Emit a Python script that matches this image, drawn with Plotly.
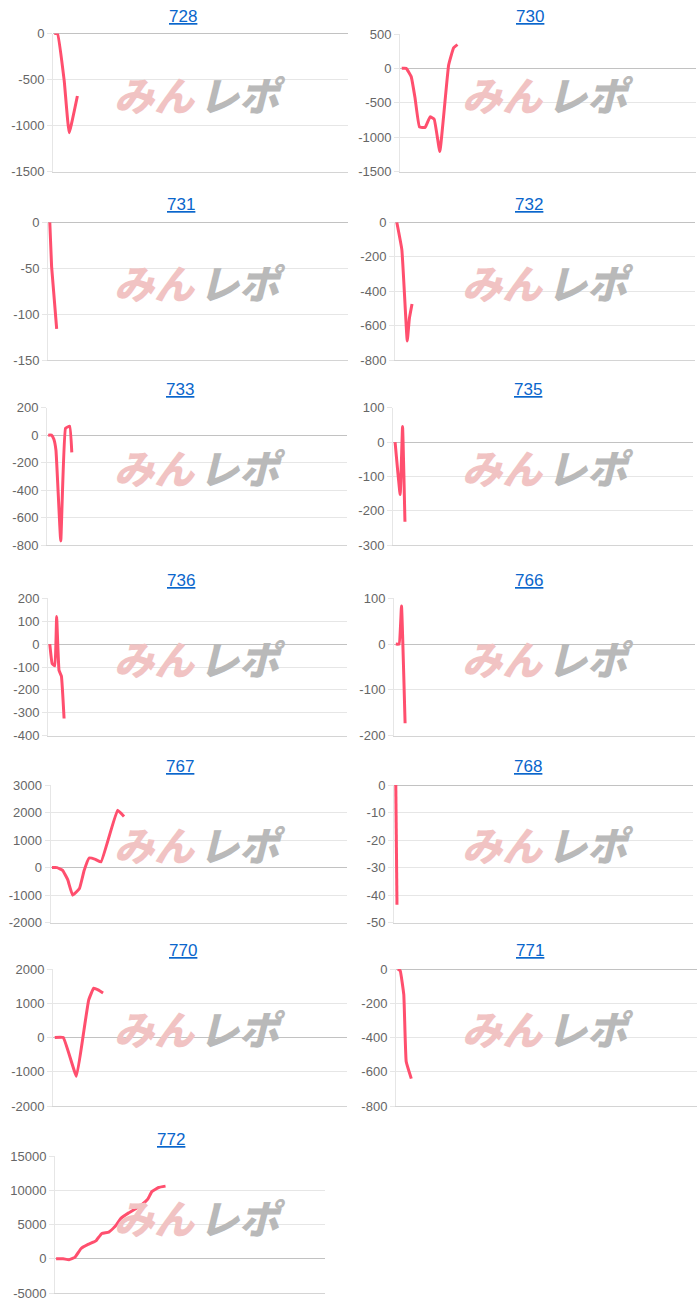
import plotly.graph_objects as go

# ---------------- data ----------------
names = ["728", "730", "731", "732", "733", "735", "736", "766", "767", "768", "770", "771", "772"]

# x: position within the day (percent of the axis), y: running difference
x728 = [0, 1.1, 3.4, 5.1, 7.9]
y728 = [0, 0, -510, -1080, -680]

x730 = [0.2, 1.7, 3.4, 4.7, 6.2, 8.1, 9.8, 11.2, 13.1, 16.1, 17.8, 19.1]
y730 = [0, 0, -120, -430, -850, -860, -705, -740, -1210, 50, 300, 345]

x731 = [0.2, 0.8, 2.5]
y731 = [0, -48, -116]

x732 = [0.2, 1.9, 3.7, 4.4, 5.3]
y732 = [0, -160, -690, -560, -475]

x733 = [0, 1.1, 1.9, 2.6, 4.2, 5.8, 7.2, 7.9]
y733 = [0, 0, -30, -110, -770, 50, 65, -125]

x735 = [0.3, 2.0, 2.8, 3.6]
y735 = [0, -153, 45, -232]

x736 = [0.2, 1.0, 1.9, 2.5, 3.3, 4.1, 5.0]
y736 = [0, -85, -95, 120, -115, -140, -325]

x766 = [0.2, 1.3, 2.1, 3.3]
y766 = [0, 0, 83, -173]

x767 = [0.1, 1.8, 3.7, 5.4, 7.1, 9.4, 11.0, 12.7, 14.8, 16.7, 22.3, 24.5]
y767 = [0, 0, -100, -430, -1000, -760, -100, 350, 300, 210, 2080, 1860]

x768 = [0.2, 0.6]
y768 = [0, -43.5]

x770 = [0.2, 3.1, 7.6, 10.2, 11.8, 13.5, 15.0, 16.7]
y770 = [0, 0, -1130, 230, 1100, 1440, 1390, 1300]

x771 = [0.2, 1.0, 2.2, 3.0, 4.7]
y771 = [0, -10, -150, -540, -640]

x772 = [0, 2.6, 4.8, 7.0, 9.3, 11.9, 14.8, 17.0, 19.6, 21.9, 24.1, 27.0, 29.6, 31.9, 34.1, 35.6, 38.1, 40.7]
y772 = [0, 0, -150, 200, 1500, 2100, 2600, 3700, 3900, 4700, 5900, 6700, 7300, 7900, 8700, 9800, 10400, 10600]

xs = [x728, x730, x731, x732, x733, x735, x736, x766, x767, x768, x770, x771, x772]
ys = [y728, y730, y731, y732, y733, y735, y736, y766, y767, y768, y770, y771, y772]

# y axis ranges and tick steps
y_ranges = [(-1500, 0), (-1500, 500), (-150, 0), (-800, 0), (-800, 200), (-300, 100),
            (-400, 200), (-200, 100), (-2000, 3000), (-50, 0), (-2000, 2000), (-800, 0),
            (-5000, 15000)]
y_steps = [500, 500, 50, 200, 200, 100, 100, 100, 1000, 10, 1000, 200, 5000]

# ---------------- layout (pixels) ----------------
W, H = 700, 1309
rects = [
    (53, 33.5, 348, 171.5), (400, 34, 696, 171.5),
    (48, 222.3, 348, 360), (395, 222.3, 695, 360),
    (47, 407.7, 347, 545), (393, 407.7, 693, 545),
    (48, 598.3, 347, 735.7), (394, 598.3, 695, 735.7),
    (50.5, 785, 347, 922.7), (394, 785, 693, 922.7),
    (53, 969, 347, 1106), (396, 969, 697, 1106),
    (55, 1156, 325, 1293),
]
title_pos = [(183, 16), (530, 16), (181, 204), (529, 204), (180, 389), (528, 389),
             (181, 580), (529, 580), (180, 766), (528, 766), (183, 950), (530, 950),
             (171, 1139)]

LINE = "#ff4f6e"
FONT = "Liberation Sans, Arial, sans-serif"

fig = go.Figure()
annotations = []
layout = dict(
    width=W, height=H, margin=dict(l=0, r=0, t=0, b=0, pad=0), autosize=False,
    paper_bgcolor="white", plot_bgcolor="white", showlegend=False,
    font=dict(family=FONT),
)

for i, name in enumerate(names):
    k = i + 1
    xa = "x" if k == 1 else f"x{k}"
    ya = "y" if k == 1 else f"y{k}"
    l, t, r, b = rects[i]
    lo, hi = y_ranges[i]
    step = y_steps[i]
    tv = []
    v = lo
    while v <= hi + 1e-9:
        tv.append(v)
        v += step
    tt = [f"{val:g}" for val in tv]

    fig.add_trace(go.Scatter(
        x=xs[i], y=ys[i], mode="lines", xaxis=xa, yaxis=ya,
        line=dict(color=LINE, width=3, shape="spline", smoothing=0.3),
        hoverinfo="skip",
    ))

    layout["xaxis" if k == 1 else f"xaxis{k}"] = dict(
        domain=[l / W, r / W], range=[-0.4, 100], anchor=ya, automargin=False,
        showgrid=False, zeroline=False, showticklabels=False,
        showline=True, linecolor="#d4d4d4", linewidth=1, ticks="",
        fixedrange=True,
    )
    layout["yaxis" if k == 1 else f"yaxis{k}"] = dict(
        domain=[1 - b / H, 1 - t / H], range=[lo, hi], anchor=xa, automargin=False,
        tickvals=tv, ticktext=tt,
        showgrid=True, gridcolor="#e6e6e6", gridwidth=1,
        zeroline=True, zerolinecolor="#c2c2c2", zerolinewidth=1,
        showline=True, linecolor="#e6e6e6", linewidth=1,
        ticks="outside", ticklen=5, tickcolor="#e6e6e6",
        tickfont=dict(size=13, color="#666666", family=FONT),
        fixedrange=True,
    )

    tx, ty = title_pos[i]
    annotations.append(dict(
        x=tx / W, y=1 - ty / H, xref="paper", yref="paper",
        text=f"<u>{name}</u>", showarrow=False, xanchor="center", yanchor="middle",
        font=dict(size=17, color="#0a66cc", family=FONT),
    ))
    # watermark
    left_col = tx < 350
    wy = 1 - (ty + 78) / H
    annotations.append(dict(
        x=(155 if left_col else 503) / W, y=wy, xref="paper", yref="paper",
        text="みん", showarrow=False, xanchor="center", yanchor="middle",
        font=dict(size=40, color="#f1c3c3", family="Noto Sans CJK JP", weight=900, style="italic"),
    ))
    annotations.append(dict(
        x=(242 if left_col else 590) / W, y=wy, xref="paper", yref="paper",
        text="レポ", showarrow=False, xanchor="center", yanchor="middle",
        font=dict(size=40, color="#b9b9b9", family="Noto Sans CJK JP", weight=900, style="italic"),
    ))

layout["annotations"] = annotations
fig.update_layout(**layout)

POST = (
    "document.documentElement.style.margin='0';"
    "document.body.style.margin='0';document.body.style.padding='0';"
    "document.body.style.overflow='hidden';"
)
fig.write_html(
    "out.html",
    config={"responsive": False, "displayModeBar": False},
    post_script=POST,
)
